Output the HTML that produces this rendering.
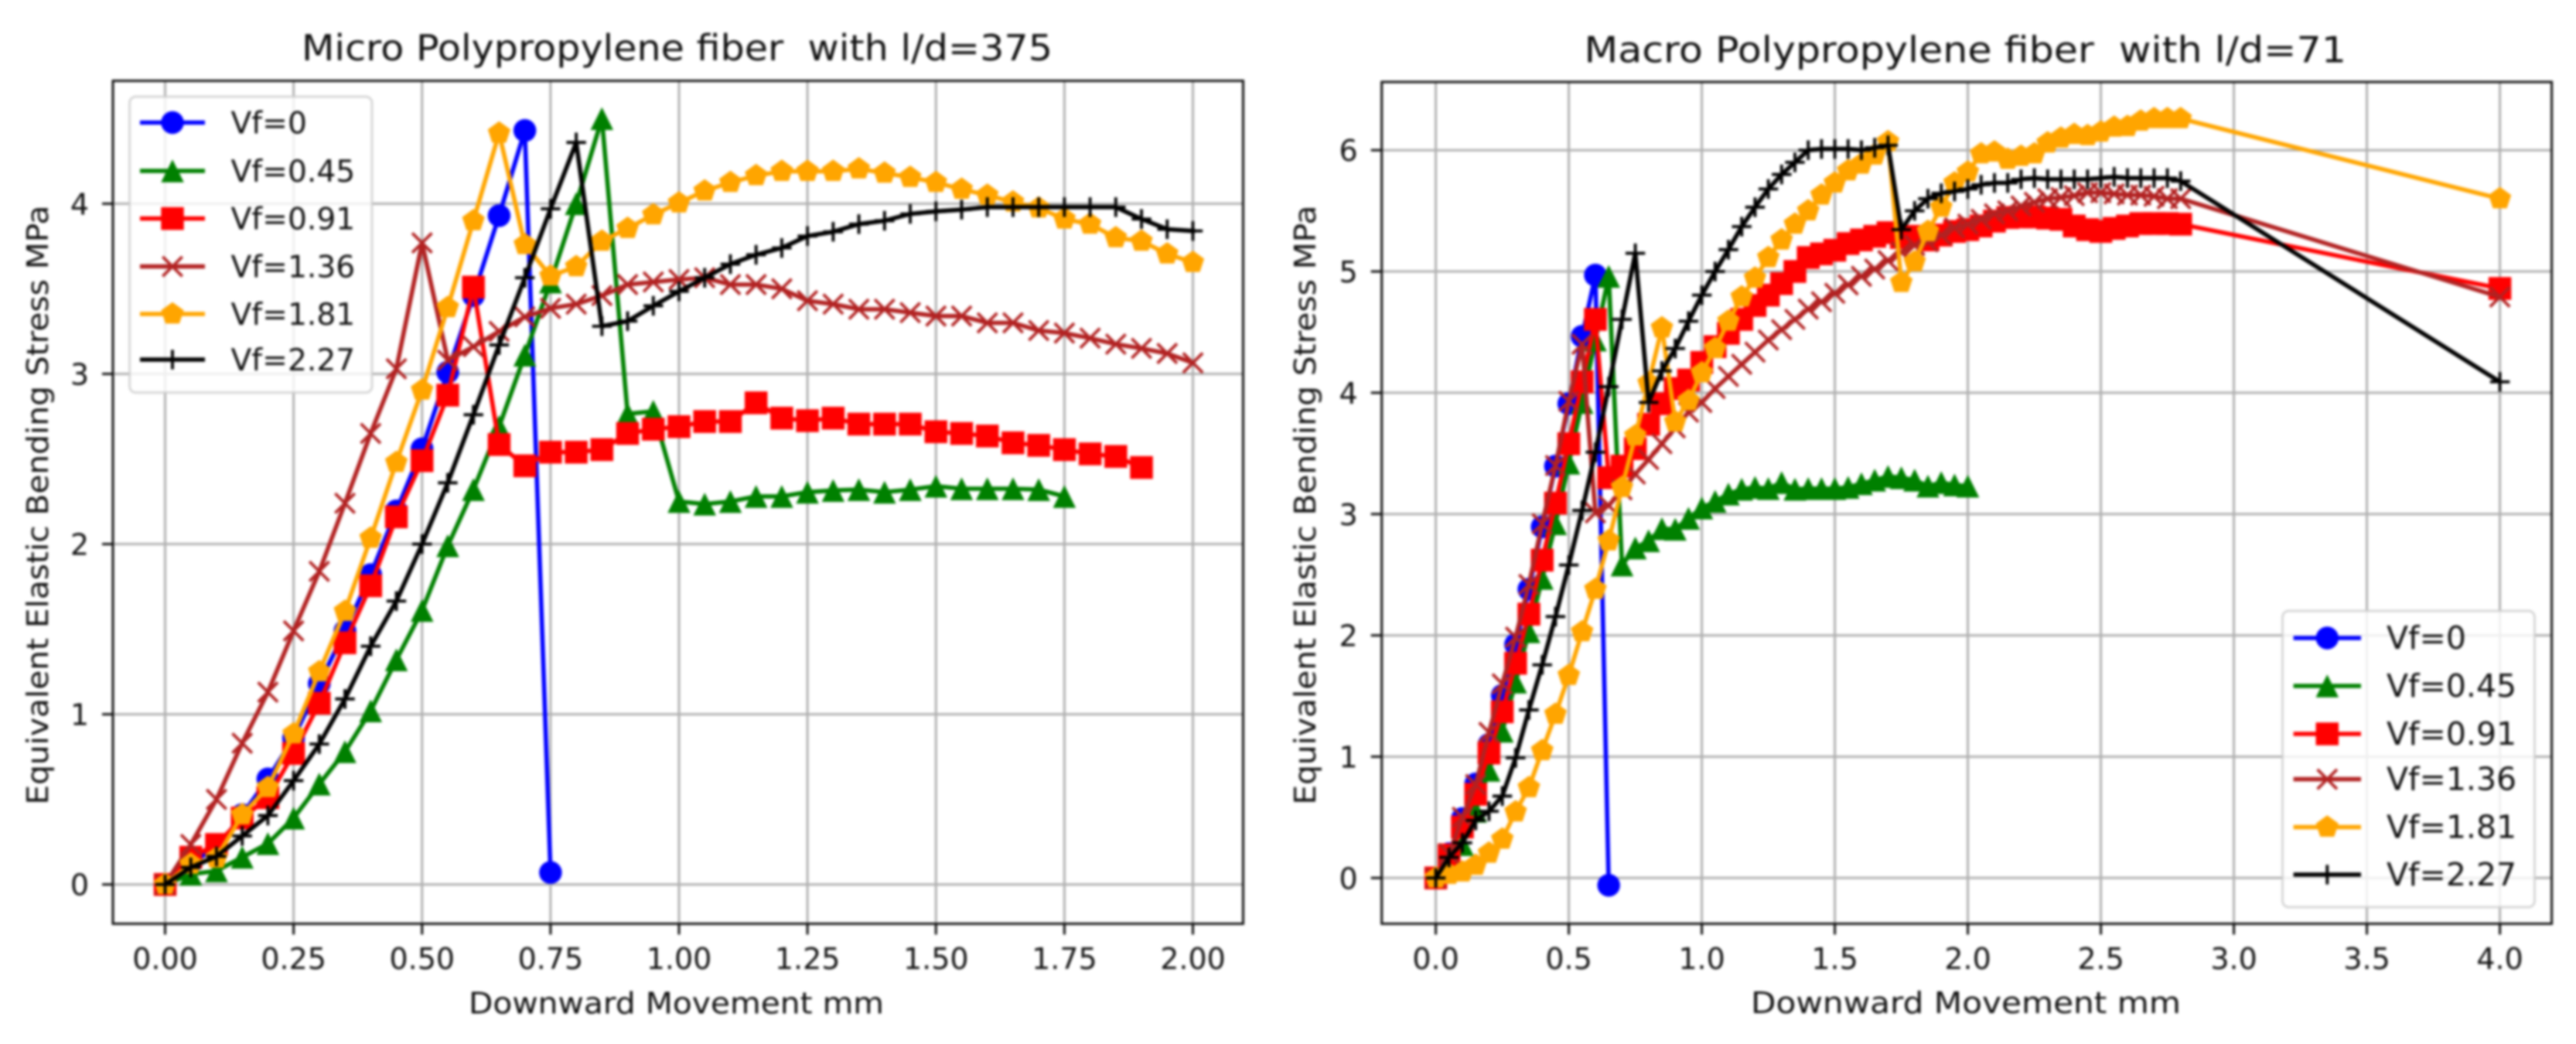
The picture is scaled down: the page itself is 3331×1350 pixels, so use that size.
<!DOCTYPE html>
<html lang="en">
<head>
<meta charset="utf-8">
<title>Polypropylene fiber bending stress charts</title>
<style>
html,body{margin:0;padding:0;background:#fff;}
body{width:3331px;height:1350px;overflow:hidden;}
svg{display:block;filter:blur(1.6px);}
text{font-family:"DejaVu Sans","Liberation Sans",sans-serif;fill:#111;white-space:pre;}
</style>
</head>
<body>
<svg id="figure" xmlns="http://www.w3.org/2000/svg" width="3331" height="1350" viewBox="0 0 3331 1350">
<rect x="0" y="0" width="3331" height="1350" fill="#ffffff"/>
</svg>
<script>
// ---------- shared legend data ----------
const seriesLabels = ['Vf=0','Vf=0.45','Vf=0.91','Vf=1.36','Vf=1.81','Vf=2.27'];
const seriesColors = ['#0000ff','#008000','#ff0000','#b22222','#ffa500','#000000'];
const seriesMarkers = ['circle','triangle','square','x','pentagon','plus'];

// ---------- micro chart data ----------
const microX = [0,0.05,0.1,0.15,0.2,0.25,0.3,0.35,0.4,0.45,0.5,0.55,0.6,0.65,0.7,0.75,0.8,0.85,0.9,0.95,1,1.05,1.1,1.15,1.2,1.25,1.3,1.35,1.4,1.45,1.5,1.55,1.6,1.65,1.7,1.75,1.8,1.85,1.9,1.95,2];
const microVf0 = [0,0.13,0.21,0.41,0.62,0.86,1.18,1.49,1.82,2.195,2.56,3.01,3.46,3.93,4.43,0.07];
const microVf045 = [0,0.06,0.08,0.16,0.24,0.39,0.59,0.78,1.02,1.32,1.61,1.99,2.32,2.69,3.11,3.54,4,4.5,2.765,2.78,2.25,2.235,2.25,2.28,2.28,2.305,2.315,2.32,2.305,2.32,2.34,2.325,2.325,2.325,2.32,2.28];
const microVf091 = [0,0.16,0.235,0.39,0.51,0.77,1.065,1.42,1.755,2.16,2.49,2.875,3.51,2.585,2.46,2.54,2.54,2.555,2.65,2.675,2.69,2.72,2.72,2.83,2.74,2.725,2.74,2.705,2.705,2.705,2.66,2.65,2.635,2.595,2.58,2.555,2.53,2.515,2.45];
const microVf136 = [0,0.235,0.5,0.83,1.13,1.49,1.84,2.24,2.65,3.03,3.77,3.08,3.16,3.25,3.335,3.385,3.41,3.46,3.525,3.54,3.555,3.565,3.525,3.525,3.5,3.43,3.41,3.38,3.38,3.36,3.34,3.34,3.3,3.3,3.255,3.24,3.21,3.175,3.15,3.12,3.065];
const microVf181 = [0,0.12,0.155,0.41,0.57,0.885,1.25,1.605,2.035,2.48,2.905,3.39,3.9,4.415,3.76,3.575,3.63,3.78,3.855,3.935,4.005,4.075,4.125,4.165,4.19,4.19,4.19,4.205,4.18,4.155,4.125,4.085,4.05,4.01,3.975,3.91,3.88,3.8,3.78,3.705,3.655];
const microVf227 = [0,0.1,0.165,0.285,0.405,0.61,0.825,1.09,1.4,1.665,2,2.36,2.76,3.17,3.565,3.97,4.36,3.28,3.31,3.4,3.485,3.565,3.645,3.7,3.74,3.81,3.835,3.88,3.9,3.94,3.955,3.965,3.98,3.98,3.98,3.98,3.98,3.98,3.91,3.85,3.84];
const microXTicks = [0,0.25,0.5,0.75,1,1.25,1.5,1.75,2];
const microXTickLabels = ['0.00','0.25','0.50','0.75','1.00','1.25','1.50','1.75','2.00'];
const microYTicks = [0,1,2,3,4];
const microYTickLabels = ['0','1','2','3','4'];

// ---------- macro chart data ----------
const macroX = [0,0.05,0.1,0.15,0.2,0.25,0.3,0.35,0.4,0.45,0.5,0.55,0.6,0.65,0.7,0.75,0.8,0.85,0.9,0.95,1,1.05,1.1,1.15,1.2,1.25,1.3,1.35,1.4,1.45,1.5,1.55,1.6,1.65,1.7,1.75,1.8,1.85,1.9,1.95,2,2.05,2.1,2.15,2.2,2.25,2.3,2.35,2.4,2.45,2.5,2.55,2.6,2.65,2.7,2.75,2.8,4];
const macroVf0 = [0,0.2,0.49,0.775,1.1,1.505,1.925,2.38,2.895,3.395,3.91,4.465,4.97,-0.06];
const macroVf045 = [0,0.15,0.275,0.55,0.888,1.21,1.615,2.03,2.47,2.92,3.42,3.92,4.435,4.96,2.58,2.72,2.78,2.88,2.875,2.965,3.05,3.105,3.165,3.205,3.22,3.21,3.26,3.205,3.21,3.21,3.21,3.22,3.25,3.28,3.31,3.3,3.28,3.23,3.26,3.24,3.23];
const macroVf091 = [0,0.19,0.42,0.69,1.03,1.37,1.77,2.175,2.62,3.09,3.58,4.09,4.605,3.3,3.395,3.54,3.74,3.91,4.035,4.105,4.25,4.38,4.49,4.605,4.72,4.805,4.9,5,5.115,5.145,5.175,5.23,5.26,5.29,5.32,5.28,5.29,5.26,5.3,5.33,5.345,5.375,5.415,5.445,5.45,5.45,5.44,5.43,5.375,5.345,5.33,5.355,5.375,5.395,5.395,5.395,5.39,4.86];
const macroVf136 = [0,0.2,0.5,0.77,1.2,1.6,1.985,2.42,2.92,3.4,3.93,4.4,3.01,3.07,3.2,3.33,3.45,3.58,3.71,3.84,3.92,4.035,4.135,4.235,4.335,4.435,4.52,4.605,4.69,4.75,4.82,4.89,4.96,5.02,5.09,5.16,5.215,5.245,5.3,5.36,5.39,5.43,5.475,5.5,5.54,5.57,5.6,5.61,5.625,5.65,5.65,5.64,5.63,5.63,5.62,5.6,5.6,4.79];
const macroVf181 = [0,0.03,0.05,0.105,0.205,0.32,0.545,0.745,1.05,1.35,1.67,2.03,2.38,2.78,3.22,3.645,4.08,4.535,3.76,3.935,4.165,4.365,4.59,4.79,4.945,5.115,5.26,5.39,5.5,5.63,5.73,5.83,5.885,5.96,6.07,4.91,5.08,5.33,5.53,5.73,5.82,5.97,5.985,5.925,5.95,5.97,6.06,6.1,6.13,6.12,6.15,6.19,6.195,6.24,6.26,6.26,6.26,5.6];
const macroVf227 = [0,0.17,0.29,0.475,0.55,0.675,0.99,1.385,1.757,2.155,2.58,3.03,3.51,4.05,4.605,5.15,3.92,4.18,4.365,4.59,4.805,5,5.18,5.37,5.53,5.68,5.8,5.9,6,6.01,6.01,6.01,6,6.02,6.04,5.345,5.5,5.6,5.645,5.66,5.68,5.715,5.73,5.73,5.76,5.77,5.76,5.76,5.76,5.76,5.77,5.78,5.77,5.77,5.77,5.77,5.745,4.09];
const macroXTicks = [0,0.5,1,1.5,2,2.5,3,3.5,4];
const macroXTickLabels = ['0.0','0.5','1.0','1.5','2.0','2.5','3.0','3.5','4.0'];
const macroYTicks = [0,1,2,3,4,5,6];
const macroYTickLabels = ['0','1','2','3','4','5','6'];

const svg = document.getElementById('figure');
const NS = 'http://www.w3.org/2000/svg';

function mk(tag, parent, attrs) {
  const e = document.createElementNS(NS, tag);
  for (const k in attrs) e.setAttribute(k, attrs[k]);
  parent.appendChild(e);
  return e;
}

function markerShape(kind, parent, cx, cy, color, s) {
  let e;
  if (kind === 'circle') {
    e = mk('circle', parent, {cx: cx, cy: cy, r: s * 0.5, fill: color});
  } else if (kind === 'square') {
    e = mk('rect', parent, {x: cx - s / 2, y: cy - s / 2, width: s, height: s, fill: color});
  } else if (kind === 'triangle') {
    const h = s * 0.5;
    e = mk('path', parent, {d: 'M' + cx + ' ' + (cy - h) + 'L' + (cx + h) + ' ' + (cy + h) + 'L' + (cx - h) + ' ' + (cy + h) + 'Z', fill: color});
  } else if (kind === 'pentagon') {
    let d = '';
    const r = s * 0.52;
    for (let i = 0; i < 5; i++) {
      const a = -Math.PI / 2 + i * 2 * Math.PI / 5;
      d += (i ? 'L' : 'M') + (cx + r * Math.cos(a)).toFixed(1) + ' ' + (cy + r * Math.sin(a)).toFixed(1);
    }
    e = mk('path', parent, {d: d + 'Z', fill: color});
  } else if (kind === 'x') {
    const h = s * 0.43;
    e = mk('path', parent, {d: 'M' + (cx - h) + ' ' + (cy - h) + 'L' + (cx + h) + ' ' + (cy + h) + 'M' + (cx - h) + ' ' + (cy + h) + 'L' + (cx + h) + ' ' + (cy - h), fill: 'none', stroke: color, 'stroke-width': 3.8});
  } else {
    const h = s * 0.43;
    e = mk('path', parent, {d: 'M' + (cx - h) + ' ' + cy + 'L' + (cx + h) + ' ' + cy + 'M' + cx + ' ' + (cy - h) + 'L' + cx + ' ' + (cy + h), fill: 'none', stroke: color, 'stroke-width': 3.8});
  }
  return e;
}

function drawChart(cfg) {
  const root = mk('g', svg, {});
  
  
  const x = cfg.xScale, y = cfg.yScale, b = cfg.box;

  // grid
  cfg.xTicks.forEach(function (v) {
    const g = mk('line', root, {x1: x(v), x2: x(v), y1: b.top, y2: b.bottom, stroke: '#b0b0b0', 'stroke-width': 3});
    
    
  });
  cfg.yTicks.forEach(function (v) {
    const g = mk('line', root, {x1: b.left, x2: b.right, y1: y(v), y2: y(v), stroke: '#b0b0b0', 'stroke-width': 3});
    
    
  });

  // series
  cfg.series.forEach(function (vals, i) {
    const g = mk('g', root, {});
    
    
    const pts = vals.map(function (v, k) { return x(cfg.xData[k]).toFixed(1) + ',' + y(v).toFixed(1); }).join(' ');
    const line = mk('polyline', g, {points: pts, fill: 'none', stroke: seriesColors[i], 'stroke-width': 5.6, 'stroke-linejoin': 'round', 'stroke-linecap': 'square'});
    
    
    vals.forEach(function (v, k) {
      const m = markerShape(seriesMarkers[i], g, x(cfg.xData[k]), y(v), seriesColors[i], 29.5);
      
      
    });
  });

  // spines
  const frame = mk('rect', root, {x: b.left, y: b.top, width: b.right - b.left, height: b.bottom - b.top, fill: 'none', stroke: '#111', 'stroke-width': 3});
  
  

  // ticks
  cfg.xTicks.forEach(function (v, i) {
    const t = mk('line', root, {x1: x(v), x2: x(v), y1: b.bottom, y2: b.bottom + 14, stroke: '#111', 'stroke-width': 3});
    
    
    const l = mk('text', root, {x: x(v), y: 1253, 'text-anchor': 'middle', 'font-size': cfg.tickFont});
    l.textContent = cfg.xTickLabels[i];
    
    
  });
  cfg.yTicks.forEach(function (v, i) {
    const t = mk('line', root, {x1: b.left - 14, x2: b.left, y1: y(v), y2: y(v), stroke: '#111', 'stroke-width': 3});
    
    
    const l = mk('text', root, {x: b.left - 31, y: y(v) + 14, 'text-anchor': 'end', 'font-size': cfg.tickFont});
    l.textContent = cfg.yTickLabels[i];
    
    
  });

  // titles
  const title = mk('text', root, {x: cfg.title.x, y: cfg.title.y, 'font-size': 46, textLength: cfg.title.w, lengthAdjust: 'spacingAndGlyphs'});
  title.textContent = cfg.title.text;
  
  

  const xl = mk('text', root, {x: cfg.xLabel.x, y: cfg.xLabel.y, 'font-size': 38, textLength: cfg.xLabel.w, lengthAdjust: 'spacingAndGlyphs'});
  xl.textContent = 'Downward Movement mm';
  
  

  const yl = mk('text', root, {x: 0, y: 0, 'font-size': 38, textLength: 775, lengthAdjust: 'spacingAndGlyphs', transform: 'translate(' + cfg.yLabelX + ',1040.6) rotate(-90)'});
  yl.textContent = 'Equivalent Elastic Bending Stress MPa';
  
  

  // legend
  const lg = mk('g', root, {});
  
  
  const L = cfg.legend;
  const box = mk('rect', lg, {x: L.x, y: L.y, width: L.w, height: L.h, rx: 8, fill: '#ffffff', 'fill-opacity': 0.8, stroke: '#cccccc', 'stroke-opacity': 0.8, 'stroke-width': 3});
  
  
  seriesLabels.forEach(function (label, i) {
    const e = mk('g', lg, {});
    
    
    const ly = L.rows[i];
    const hl = mk('line', e, {x1: L.hx1, x2: L.hx2, y1: ly, y2: ly, stroke: seriesColors[i], 'stroke-width': 5.6});
    
    
    const hm = markerShape(seriesMarkers[i], e, (L.hx1 + L.hx2) / 2, ly, seriesColors[i], 29.5);
    
    
    const tx = mk('text', e, {x: L.tx, y: ly + 14, 'font-size': L.font});
    tx.textContent = label;
    
    
  });
}

drawChart({
  name: 'micro-chart',
  box: {left: 146, right: 1607.5, top: 104.5, bottom: 1194.5},
  xScale: function (v) { return 213.5 + v * 664.5; },
  yScale: function (v) { return 1143.7 - v * 220.07; },
  xData: microX,
  series: [microVf0, microVf045, microVf091, microVf136, microVf181, microVf227],
  xTicks: microXTicks, xTickLabels: microXTickLabels,
  yTicks: microYTicks, yTickLabels: microYTickLabels,
  tickFont: 38,
  title: {text: 'Micro Polypropylene fiber  with l/d=375', x: 390, y: 78, w: 971},
  xLabel: {x: 606, y: 1310.5, w: 537},
  yLabelX: 62,
  legend: {x: 167.6, y: 125, w: 313.4, h: 382.6, rows: [158.5, 221, 282.6, 344.6, 406, 465], hx1: 181, hx2: 265, tx: 298.5, font: 39.2}
});

drawChart({
  name: 'macro-chart',
  box: {left: 1786.7, right: 3299.6, top: 106, bottom: 1194.5},
  xScale: function (v) { return 1856.6 + v * 344; },
  yScale: function (v) { return 1135.3 - v * 156.85; },
  xData: macroX,
  series: [macroVf0, macroVf045, macroVf091, macroVf136, macroVf181, macroVf227],
  xTicks: macroXTicks, xTickLabels: macroXTickLabels,
  yTicks: macroYTicks, yTickLabels: macroYTickLabels,
  tickFont: 38,
  title: {text: 'Macro Polypropylene fiber  with l/d=71', x: 2048.5, y: 80.5, w: 985.5},
  xLabel: {x: 2264, y: 1310, w: 556},
  yLabelX: 1701,
  legend: {x: 2951.5, y: 790, w: 326, h: 383, rows: [825, 887, 949, 1007.6, 1069.6, 1131], hx1: 2965.6, hx2: 3053, tx: 3086, font: 41}
});
</script>
</body>
</html>
